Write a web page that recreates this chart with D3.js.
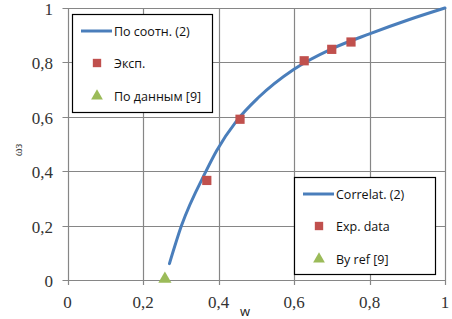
<!DOCTYPE html>
<html>
<head>
<meta charset="utf-8">
<script src="https://cdn.jsdelivr.net/npm/d3@7"></script>
<style>
  body { margin: 0; background: #fff; }
</style>
</head>
<body>
<div id="chart"></div>
<script>
// curve
let curveW = [0.27, 0.302, 0.367, 0.395, 0.448, 0.505, 0.6, 0.7, 0.8, 0.9, 1.0];
let curveOmega = [0.06, 0.2, 0.4, 0.475, 0.585, 0.67, 0.775, 0.85, 0.905, 0.955, 1.0];

let expW = [0.369, 0.457, 0.627, 0.7, 0.751];
let expOmega = [0.366, 0.591, 0.806, 0.848, 0.875];

let refW = [0.258];
let refOmega = [0.0];

let tickVals = [0, 0.2, 0.4, 0.6, 0.8, 1];
let tickLabels = ["0", "0,2", "0,4", "0,6", "0,8", "1"];

let legendRu = ["По соотн. (2)", "Эксп.", "По данным [9]"];
let legendEn = ["Correlat. (2)", "Exp. data", "By ref [9]"];

var w = 452,
	h = 319;

var lineColor = "#4a7ebb",
	sqColor = "#c0504d",
	triColor = "#9bbb59",
	gridColor = "#868686";

var x = d3.scaleLinear().domain([0, 1]).range([67.5, 445]);
var y = d3.scaleLinear().domain([0, 1]).range([280, 8]);

var svg = d3
	.select("#chart")
	.append("svg")
	.attr("width", w)
	.attr("height", h);

// grid
svg
	.append("g")
	.selectAll("line.v")
	.data(tickVals)
	.enter()
	.append("line")
	.attr("x1", (d) => Math.round(x(d)) + 0.5)
	.attr("x2", (d) => Math.round(x(d)) + 0.5)
	.attr("y1", y(1))
	.attr("y2", y(0) + 5)
	.attr("stroke", gridColor)
	.attr("stroke-width", 1.2);

svg
	.append("g")
	.selectAll("line.h")
	.data(tickVals)
	.enter()
	.append("line")
	.attr("y1", (d) => Math.round(y(d)) + 0.5)
	.attr("y2", (d) => Math.round(y(d)) + 0.5)
	.attr("x1", x(0) - 5)
	.attr("x2", x(1))
	.attr("stroke", gridColor)
	.attr("stroke-width", 1.2);

// tick labels
svg
	.append("g")
	.selectAll("text")
	.data(tickVals)
	.enter()
	.append("text")
	.attr("x", 53)
	.attr("y", (d) => y(d) + 7)
	.attr("text-anchor", "end")
	.attr("font-family", "Liberation Serif, serif")
	.attr("font-size", 17)
	.attr("fill", "#333")
	.text((d, i) => tickLabels[i]);

svg
	.append("g")
	.selectAll("text")
	.data(tickVals)
	.enter()
	.append("text")
	.attr("x", (d) => x(d))
	.attr("y", 308)
	.attr("text-anchor", "middle")
	.attr("font-family", "Liberation Serif, serif")
	.attr("font-size", 17)
	.attr("fill", "#333")
	.text((d, i) => tickLabels[i]);

// axis titles
svg
	.append("text")
	.attr("x", 245)
	.attr("y", 316)
	.attr("text-anchor", "middle")
	.attr("font-family", "Open Sans, sans-serif")
	.attr("font-size", 13)
	.attr("fill", "#222")
	.text("w");

svg
	.append("text")
	.attr("transform", "translate(22,150) rotate(-90)")
	.attr("text-anchor", "middle")
	.attr("font-family", "Liberation Serif, serif")
	.attr("font-size", 12)
	.attr("fill", "#444")
	.text("ωз");

// curve
var line = d3
	.line()
	.x((d) => x(d[0]))
	.y((d) => y(d[1]))
	.curve(d3.curveMonotoneX);

svg
	.append("path")
	.datum(d3.zip(curveW, curveOmega))
	.attr("d", line)
	.attr("fill", "none")
	.attr("stroke", lineColor)
	.attr("stroke-width", 3)
	.attr("stroke-linecap", "round");

// markers
var sq = d3.symbol().type(d3.symbolSquare).size(85);
var tri = d3.symbol().type(d3.symbolTriangle).size(75);

svg
	.append("g")
	.selectAll("path")
	.data(d3.zip(expW, expOmega))
	.enter()
	.append("path")
	.attr("d", sq)
	.attr("transform", (d) => "translate(" + x(d[0]) + "," + y(d[1]) + ")")
	.attr("fill", sqColor);

svg
	.append("g")
	.selectAll("path")
	.data(d3.zip(refW, refOmega))
	.enter()
	.append("path")
	.attr("d", tri)
	.attr("transform", (d) => "translate(" + x(d[0]) + "," + (y(d[1]) - 1) + ")")
	.attr("fill", triColor);

// legends
function drawLegend(x0, y0, bw, bh, labels) {
	let g = svg.append("g").attr("transform", "translate(" + x0 + "," + y0 + ")");
	g.append("rect")
		.attr("x", 0.5)
		.attr("y", 0.5)
		.attr("width", bw)
		.attr("height", bh)
		.attr("fill", "#fff")
		.attr("stroke", "#000")
		.attr("stroke-width", 1.2);
	let rowY = [17, 49, 82];
	g.append("line")
		.attr("x1", 9)
		.attr("x2", 40)
		.attr("y1", rowY[0])
		.attr("y2", rowY[0])
		.attr("stroke", lineColor)
		.attr("stroke-width", 3);
	g.append("path")
		.attr("d", d3.symbol().type(d3.symbolSquare).size(70))
		.attr("transform", "translate(25," + rowY[1] + ")")
		.attr("fill", sqColor);
	g.append("path")
		.attr("d", d3.symbol().type(d3.symbolTriangle).size(60))
		.attr("transform", "translate(25," + rowY[2] + ")")
		.attr("fill", triColor);
	g.selectAll("text")
		.data(labels)
		.enter()
		.append("text")
		.attr("x", 42)
		.attr("y", (d, i) => rowY[i] + 4.5)
		.attr("font-family", "Open Sans, sans-serif")
		.attr("font-size", 12.5)
		.attr("fill", "#111")
		.text((d) => d);
}

drawLegend(72, 14, 140, 98, legendRu);
drawLegend(294, 177, 141, 97, legendEn);
</script>
</body>
</html>
